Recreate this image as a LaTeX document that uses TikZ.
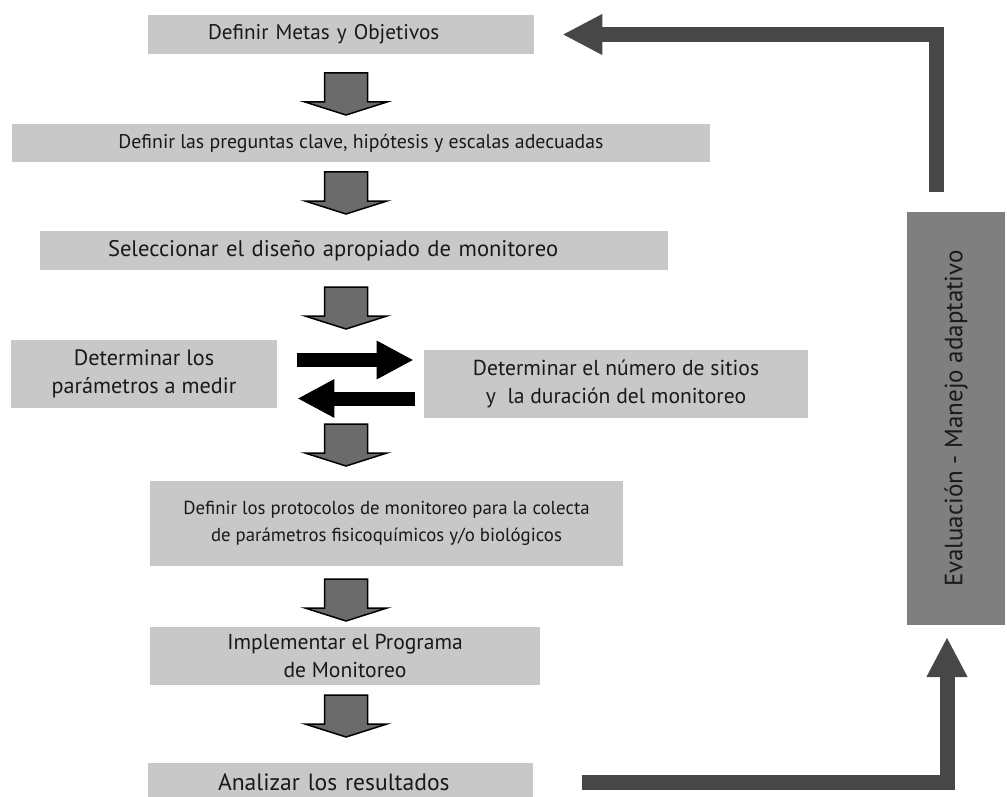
\documentclass[tikz,border=0pt]{standalone}
\usepackage{fontspec}
\setmainfont{PT Sans}
\usetikzlibrary{arrows.meta}
\newlength\px
\setlength\px{0.5pt}
\definecolor{cajagris}{HTML}{C8C8C8}
\definecolor{evalgris}{HTML}{7F7F7F}
\definecolor{flechagris}{HTML}{6B6B6B}
\definecolor{lazogris}{HTML}{474747}
\begin{document}
\begin{tikzpicture}[x=0.5pt,y=-0.5pt,
    caja/.style={fill=cajagris,inner sep=0,text=black!90,align=center},
    letra/.style={font=\fontsize{#1}{13.7}\selectfont},
    bloque/.style={fill=flechagris,draw=black,line width=0.75pt},
    negra/.style={line width=7pt,-{Triangle[length=18.5pt,width=18pt]}},
    lazo/.style={draw=lazogris,line width=7.5pt,-{Triangle[length=20pt,width=19pt]}},
    pics/bajar/.style={code={
        \draw[bloque] (-21.5,0) -- (21.5,0) -- (21.5,29) -- (41,29) -- (0,42)
            -- (-41,29) -- (-21.5,29) -- cycle;}}]
    \useasboundingbox (0,0) rectangle (1007,797);
    % cajas del flujo
    \node[caja,letra=10.6,minimum height=39\px,text width=266\px,inner xsep=60\px,align=left] (metas) at (341,34.5) {Definir Metas y Objetivos};
    \node[caja,letra=9.9,minimum width=698\px,minimum height=38\px] (preguntas) at (361,143) {Definir las preguntas clave, hipótesis y escalas adecuadas};
    \node[caja,letra=11.3,minimum height=39\px,text width=492\px,inner xsep=68\px,align=left] (diseno) at (354,250.5) {Seleccionar el diseño apropiado de monitoreo};
    \node[caja,letra=11.1,minimum width=266\px,minimum height=68\px] (parametros) at (144,374) {Determinar los\\parámetros a medir};
    \node[caja,letra=10.8,minimum width=384\px,minimum height=68\px] (sitios) at (616,384) {Determinar el número de sitios\\y\ \ la duración del monitoreo};
    \node[caja,letra=9.4,minimum width=473\px,minimum height=85\px] (protocolos) at (386.5,523.5) {Definir los protocolos de monitoreo para la colecta\\de parámetros fisicoquímicos y/o biológicos};
    \node[caja,letra=10.8,minimum width=390\px,minimum height=58\px] (programa) at (345,656) {Implementar el Programa\\de Monitoreo};
    \node[caja,letra=11.8,minimum height=38\px,text width=245\px,inner xsep=70\px,align=left] (analizar) at (340.5,782) {Analizar los resultados};
    \node[caja,fill=evalgris,rotate=90,minimum width=413\px,minimum height=98\px,
        font=\fontsize{12.5}{15}\selectfont] (eval) at (956,418.5) {Evaluación - Manejo adaptativo};
    % flechas de bloque
    \pic at (346,73) {bajar};
    \pic at (346,172) {bajar};
    \pic at (346,287) {bajar};
    \pic at (346,424) {bajar};
    \pic at (346,579) {bajar};
    \pic at (346,695) {bajar};
    % ida y vuelta
    \coordinate (ida) at (297,360);
    \coordinate (vuelta) at (415,398.5);
    \draw[negra,shorten >=5pt] (ida) -- (ida -| sitios.west);
    \draw[negra,shorten >=10pt] (vuelta) -- (vuelta -| parametros.east);
    % lazo de evaluacion
    \coordinate (salida) at (936.5,192);
    \coordinate (entrada) at (947,637);
    \draw[lazo] (salida) |- ([xshift=14pt]metas.east);
    \draw[lazo] ([xshift=24.5pt]analizar.east) -| (entrada);
\end{tikzpicture}
\end{document}
